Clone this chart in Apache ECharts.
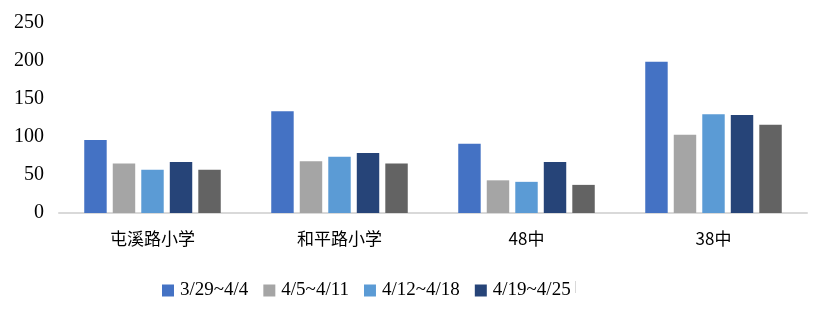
<!DOCTYPE html>
<html><head><meta charset="utf-8">
<script src="https://cdn.jsdelivr.net/npm/echarts@6/dist/echarts.min.js"></script>
<style>html,body{margin:0;padding:0;background:#fff}#c{width:829px;height:317px}</style>
</head><body><div id="c"></div>
<script>
var categories = ['屯溪路小学', '和平路小学', '48中', '38中'];
var seriesNames = ['3/29~4/4', '4/5~4/11', '4/12~4/18', '4/19~4/25', '4/26~5/2'];
var s1 = [96, 134, 91, 199];
var s2 = [65, 68, 43, 103];
var s3 = [57, 74, 41, 130];
var s4 = [67, 79, 67, 129];
var s5 = [57, 65, 37, 116];
var yTicks = [0, 50, 100, 150, 200, 250];
var colors = ['#4472C4', '#A5A5A5', '#5B9BD5', '#264478', '#636363'];
var data = [s1, s2, s3, s4, s5];

var chart = echarts.init(document.getElementById('c'));
chart.setOption({
  animation: false,
  color: colors,
  grid: {left: 59, right: 22, top: 23, bottom: 104, containLabel: false},
  legend: {
    data: seriesNames.slice(0, 4),
    left: 157, top: 276,
    itemWidth: 12, itemHeight: 12, itemGap: 15,
    icon: 'rect',
    textStyle: {fontFamily: 'Liberation Serif', fontSize: 19, color: '#000', padding: [0, 0, 0, 1]}
  },
  xAxis: {
    type: 'category',
    data: categories,
    axisLine: {lineStyle: {color: '#d9d9d9', width: 2}},
    axisTick: {show: false},
    axisLabel: {fontFamily: 'Noto Sans CJK SC', fontSize: 17, color: '#000', margin: 17}
  },
  yAxis: {
    type: 'value', min: yTicks[0], max: yTicks[yTicks.length - 1], interval: 50,
    axisLine: {show: false}, axisTick: {show: false}, splitLine: {show: false},
    axisLabel: {fontFamily: 'Liberation Serif', fontSize: 20, color: '#000', margin: 15}
  },
  graphic: [{type: 'rect', left: 575, top: 281, shape: {width: 1, height: 12}, style: {fill: '#d9d9d9'}}],
  series: data.map(function (d, i) {
    return {
      name: seriesNames[i], type: 'bar', data: d,
      barGap: '27%', barCategoryGap: '27%'
    };
  })
});
</script></body></html>
